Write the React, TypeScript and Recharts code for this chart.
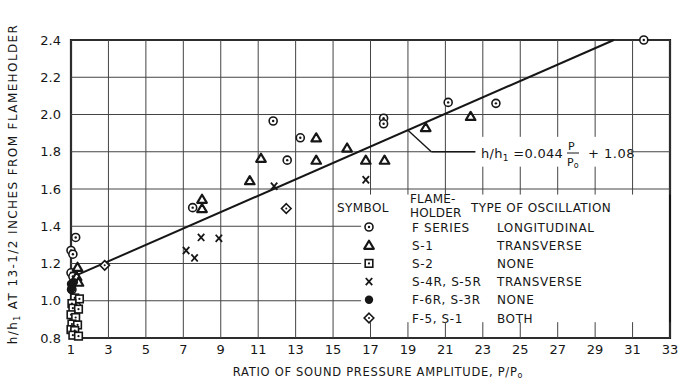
import { ReferenceArea, ReferenceLine, Scatter, ScatterChart, XAxis, YAxis } from "recharts";

// P/P0 vs h/h1
const fSeries = [[1.25, 1.34], [1.0, 1.27], [1.1, 1.25], [1.0, 1.15], [1.1, 1.13], [1.05, 1.06], [1.3, 0.97], [1.15, 0.89], [7.5, 1.5], [11.8, 1.965], [12.55, 1.755], [13.25, 1.875], [17.7, 1.98], [17.7, 1.95], [21.15, 2.065], [23.7, 2.06], [31.6, 2.4]];
const s1 = [[1.35, 1.18], [1.3, 1.13], [1.4, 1.1], [8.0, 1.545], [8.0, 1.495], [10.55, 1.645], [11.15, 1.765], [14.1, 1.875], [14.1, 1.755], [15.75, 1.82], [16.75, 1.755], [17.75, 1.755], [19.95, 1.93], [22.35, 1.99]];
const s2 = [[1.2, 1.015], [1.45, 1.01], [1.05, 0.985], [1.1, 0.96], [1.4, 0.955], [1.0, 0.925], [1.25, 0.91], [1.05, 0.875], [1.35, 0.87], [1.0, 0.845], [1.2, 0.84], [1.1, 0.815], [1.4, 0.81]];
const s4r = [[7.15, 1.27], [7.6, 1.23], [7.95, 1.34], [8.9, 1.335], [11.85, 1.615], [16.75, 1.65]];
const f6r = [[1.0, 1.09], [1.05, 1.075], [1.15, 1.1], [1.0, 1.06]];
const f5 = [[2.8, 1.19], [12.5, 1.495]];

const xTicks = [1, 3, 5, 7, 9, 11, 13, 15, 17, 19, 21, 23, 25, 27, 29, 31, 33];
const yTicks = [0.8, 1.0, 1.2, 1.4, 1.6, 1.8, 2.0, 2.2, 2.4];
const xDomain = [1, 33];
const yDomain = [0.8, 2.4];

// fit: h/h1 = 0.044 P/P0 + 1.08
const slope = 0.044;
const intercept = 1.08;
const fitFrom = 1;
const fitTo = 30;
const noteAt = 19;
const noteElbow = [20.25, 1.8];
const noteEnd = 22.6;

// where the legend and the equation interrupt the graph paper (axis units)
const legendGap = { x0: 16.5, y0: 0.885, y1: 1.57 };
const noteGap = { x0: 22.6, x1: 30.9, y0: 1.72, y1: 1.88 };

const legendRows = [
  { symbol: "circle", holder: "F  SERIES", type: "LONGITUDINAL" },
  { symbol: "triangle", holder: "S-1", type: "TRANSVERSE" },
  { symbol: "square", holder: "S-2", type: "NONE" },
  { symbol: "cross", holder: "S-4R, S-5R", type: "TRANSVERSE" },
  { symbol: "dot", holder: "F-6R, S-3R", type: "NONE" },
  { symbol: "diamond", holder: "F-5, S-1", type: "BOTH" },
];

const ink = "#161616";
const gridInk = "#444";
const font = "'DejaVu Sans', sans-serif";
const toPts = (rows: number[][]) => rows.map(([x, y]) => ({ x, y }));

// split [a,b] around the gaps
const pieces = (a: number, b: number, gaps: number[][]) => {
  const out: number[][] = [];
  let start = a;
  gaps.sort((p, q) => p[0] - q[0]).forEach(([g0, g1]) => {
    if (g0 > start) out.push([start, g0]);
    start = Math.max(start, g1);
  });
  if (start < b) out.push([start, b]);
  return out;
};

const vGaps = (t: number) => {
  const g: number[][] = [];
  if (t > legendGap.x0) g.push([legendGap.y0, legendGap.y1]);
  if (t > noteGap.x0 && t < noteGap.x1) g.push([noteGap.y0, noteGap.y1]);
  return g;
};
const hGaps = (t: number) => {
  const g: number[][] = [];
  if (t > legendGap.y0 && t < legendGap.y1) g.push([legendGap.x0, xDomain[1]]);
  if (t > noteGap.y0 && t < noteGap.y1) g.push([noteGap.x0, noteGap.x1]);
  return g;
};

const Marker = ({ kind, cx, cy }: { kind: string; cx: number; cy: number }) => {
  if (cx == null || cy == null) return null;
  const t = `translate(${cx},${cy})`;
  if (kind === "circle") return <g transform={t}><circle r={4} fill="#fff" stroke={ink} strokeWidth={1.6} /><circle r={1.2} fill={ink} /></g>;
  if (kind === "triangle") return <g transform={t}><polygon points="0,-4.5 4.8,3.6 -4.8,3.6" fill="#fff" stroke={ink} strokeWidth={2.2} strokeLinejoin="round" /></g>;
  if (kind === "square") return <g transform={t}><rect x={-3.8} y={-3.8} width={7.6} height={7.6} fill="#fff" stroke={ink} strokeWidth={1.6} /><circle r={1.1} fill={ink} /></g>;
  if (kind === "cross") return <g transform={t} stroke={ink} strokeWidth={1.8}><line x1={-3.2} y1={-3.6} x2={3.2} y2={3.6} /><line x1={3.2} y1={-3.6} x2={-3.2} y2={3.6} /></g>;
  if (kind === "dot") return <g transform={t}><circle r={4.2} fill={ink} /></g>;
  return <g transform={t}><polygon points="0,-4.8 4.8,0 0,4.8 -4.8,0" fill="#fff" stroke={ink} strokeWidth={1.6} /><circle r={1} fill={ink} /></g>;
};

const shapeFor = (kind: string) => (p: any) => <Marker kind={kind} cx={p.cx} cy={p.cy} />;

const txt = { fontFamily: font, fill: ink };

export default function App() {
  return (
    <div style={{ position: "absolute", left: 0, top: 0, background: "#fff" }}>
      <ScatterChart width={678} height={382} margin={{ top: 40, right: 8, bottom: 14, left: 8 }}>
        <XAxis type="number" dataKey="x" domain={xDomain} ticks={xTicks} interval={0} height={30} tickSize={0} tickMargin={7} axisLine={false} tick={{ fontSize: 13, fontFamily: font, fill: ink }} />
        <YAxis type="number" dataKey="y" domain={yDomain} ticks={yTicks} interval={0} width={63} tickSize={0} tickMargin={10} axisLine={false} tickFormatter={(v) => v.toFixed(1)} tick={{ fontSize: 13, fontFamily: font, fill: ink }} />

        {/* graph-paper grid, broken where the legend and equation sit */}
        {xTicks.flatMap((t) => pieces(yDomain[0], yDomain[1], vGaps(t)).map(([a, b]) => (
          <ReferenceLine key={`gx${t}-${a}`} segment={[{ x: t, y: a }, { x: t, y: b }]} stroke={gridInk} strokeWidth={1} />
        )))}
        {yTicks.flatMap((t) => pieces(xDomain[0], xDomain[1], hGaps(t)).map(([a, b]) => (
          <ReferenceLine key={`gy${t}-${a}`} segment={[{ x: a, y: t }, { x: b, y: t }]} stroke={gridInk} strokeWidth={1} />
        )))}

        <g>
          <text x={337} y={212} fontSize={12} letterSpacing={0.4} {...txt}>SYMBOL</text>
          <text x={410} y={203} fontSize={12} letterSpacing={0.2} {...txt}>FLAME-</text>
          <text x={410} y={217} fontSize={12} letterSpacing={0.2} {...txt}>HOLDER</text>
          <text x={471} y={212} fontSize={12} letterSpacing={0.4} {...txt}>TYPE OF OSCILLATION</text>
          {legendRows.map((r, i) => (
            <g key={r.holder}>
              <Marker kind={r.symbol} cx={369} cy={227 + i * 18.2} />
              <text x={412} y={231.5 + i * 18.2} fontSize={12} letterSpacing={0.6} {...txt}>{r.holder}</text>
              <text x={497} y={231.5 + i * 18.2} fontSize={12} letterSpacing={0.6} {...txt}>{r.type}</text>
            </g>
          ))}
        </g>

        <ReferenceArea x1={xDomain[0]} x2={xDomain[1]} y1={yDomain[0]} y2={yDomain[1]} fill="none" stroke={ink} strokeWidth={2.2} />
        <ReferenceLine segment={[{ x: fitFrom, y: slope * fitFrom + intercept }, { x: fitTo, y: slope * fitTo + intercept }]} stroke={ink} strokeWidth={2} />
        <ReferenceLine segment={[{ x: noteAt, y: slope * noteAt + intercept }, { x: noteElbow[0], y: noteElbow[1] }]} stroke={ink} strokeWidth={1.4} />
        <ReferenceLine segment={[{ x: noteElbow[0], y: noteElbow[1] }, { x: noteEnd, y: noteElbow[1] }]} stroke={ink} strokeWidth={1.4} />

        <Scatter data={toPts(fSeries)} shape={shapeFor("circle")} isAnimationActive={false} />
        <Scatter data={toPts(s1)} shape={shapeFor("triangle")} isAnimationActive={false} />
        <Scatter data={toPts(s2)} shape={shapeFor("square")} isAnimationActive={false} />
        <Scatter data={toPts(s4r)} shape={shapeFor("cross")} isAnimationActive={false} />
        <Scatter data={toPts(f6r)} shape={shapeFor("dot")} isAnimationActive={false} />
        <Scatter data={toPts(f5)} shape={shapeFor("diamond")} isAnimationActive={false} />

        {/* fit equation */}
        <g {...txt} fontSize={13}>
          <text x={481} y={157.5} letterSpacing={0.3}>h/h<tspan fontSize={9} dy={3}>1</tspan><tspan dy={-3}> =0.044</tspan></text>
          <text x={568} y={150} fontSize={11}>P</text>
          <line x1={567} y1={153} x2={579} y2={153} stroke={ink} strokeWidth={1} />
          <text x={567} y={166} fontSize={11}>P<tspan fontSize={8} dy={2}>o</tspan></text>
          <text x={588} y={157.5} letterSpacing={0.5}>+ 1.08</text>
        </g>

        <text x={378} y={376} textAnchor="middle" fontSize={11.5} letterSpacing={0.7} {...txt}>RATIO OF SOUND PRESSURE AMPLITUDE, P/P<tspan fontSize={8} dy={2}>o</tspan></text>
        <text transform="translate(17,184) rotate(-90)" textAnchor="middle" fontSize={12} letterSpacing={1.4} {...txt}>h/h<tspan fontSize={8} dy={3}>1</tspan><tspan dy={-3}> AT 13-1/2 INCHES FROM FLAMEHOLDER</tspan></text>
      </ScatterChart>
    </div>
  );
}
